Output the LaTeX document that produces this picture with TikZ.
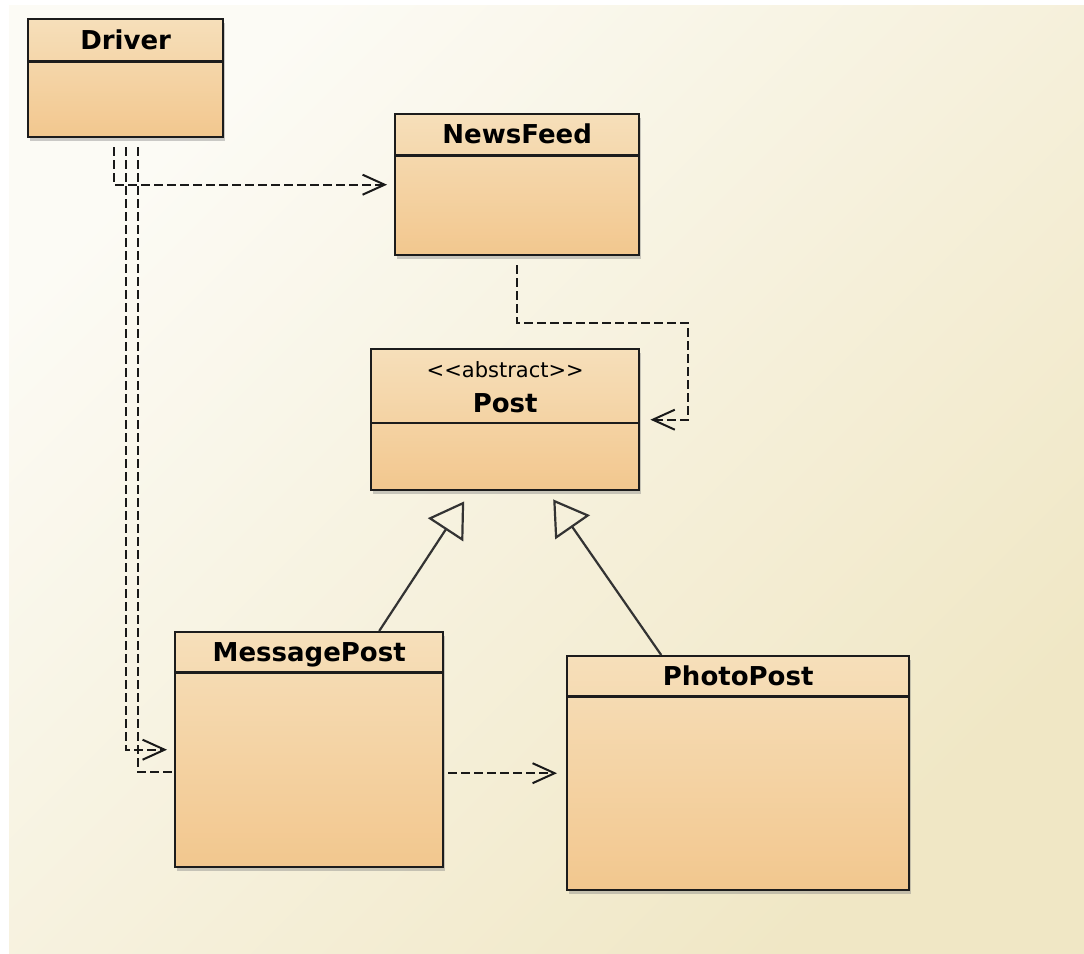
\documentclass[tikz,border=0pt]{standalone}
\usepackage{fontspec}
\setmainfont{DejaVu Sans}
\usetikzlibrary{%
	positioning,
	arrows.meta,
	shadows
}
\definecolor{bgtop}{RGB}{252,251,245}
\definecolor{bgbot}{RGB}{240,231,197}
\definecolor{classtop}{RGB}{246,223,186}
\definecolor{classbot}{RGB}{242,199,142}
\definecolor{classline}{RGB}{28,28,28}

\begin{document}
\begin{tikzpicture}[x=1pt,y=-1pt,
		UClass/.style={draw=classline,line width=2.4pt,shape=rectangle,top color=classtop,bottom color=classbot,inner sep=0pt,anchor=north west,drop shadow={shadow xshift=2pt,shadow yshift=-4pt,opacity=.4}},
		title/.style={inner sep=0pt,text height=19pt,text depth=0pt,font=\bfseries\fontsize{26}{30}\selectfont},
		stereo/.style={inner sep=0pt,text height=16pt,text depth=0pt,font=\fontsize{21}{24}\selectfont},
		divider/.style={draw=classline,line width=2.2pt},
		dep/.style={draw=black!90,line width=2pt,dash pattern=on 9pt off 4pt,-{Straight Barb[length=22pt,width=20pt]},shorten >=7pt},
		isa/.style={draw=black!80,line width=2.2pt,-{Triangle[open,length=34pt,width=42pt]}}
	]
	\useasboundingbox (0,0) rectangle (1084,953);
	\shade [top color=bgtop,bottom color=bgbot,shading angle=45] (9,5) rectangle (1084,953);
	
		%Driver
		\node (driver) [UClass,minimum width=195pt,minimum height=118pt] at (27,18) {};
		\node (driver-t) [title,minimum height=43pt,below=0pt of driver.north] {Driver};
		\draw [divider] (driver-t.south -| driver.west) -- (driver-t.south -| driver.east);
		
		%NewsFeed
		\node (newsfeed) [UClass,minimum width=244pt,minimum height=141pt,below right=95pt and 367pt of driver.north west,anchor=north west] {};
		\node (newsfeed-t) [title,minimum height=42pt,below=0pt of newsfeed.north] {NewsFeed};
		\draw [divider] (newsfeed-t.south -| newsfeed.west) -- (newsfeed-t.south -| newsfeed.east);
		
		%Post
		\node (post) [UClass,minimum width=268pt,minimum height=141pt,below left=235pt and 24pt of newsfeed.north west,anchor=north west] {};
		\node (post-s) [stereo,below=13pt of post.north] {<{}<abstract>{}>};
		\node (post-t) [title,below=16pt of post-s.south] {Post};
		\coordinate [below=75pt of post.north] (post-d);
		\draw [divider] (post-d -| post.west) -- (post-d -| post.east);
		
		%MessagePost
		\node (messagepost) [UClass,minimum width=268pt,minimum height=235pt,below left=283pt and 196pt of post.north west,anchor=north west] {};
		\node (messagepost-t) [title,minimum height=41pt,below=0pt of messagepost.north] {MessagePost};
		\draw [divider] (messagepost-t.south -| messagepost.west) -- (messagepost-t.south -| messagepost.east);
		
		%PhotoPost
		\node (photopost) [UClass,minimum width=342pt,minimum height=234pt,below right=24pt and 392pt of messagepost.north west,anchor=north west] {};
		\node (photopost-t) [title,minimum height=41pt,below=0pt of photopost.north] {PhotoPost};
		\draw [divider] (photopost-t.south -| photopost.west) -- (photopost-t.south -| photopost.east);
		
		%uses
		\coordinate [below left=9pt and 12pt of driver.south] (d1);
		\coordinate [below=9pt of driver.south] (d2);
		\coordinate [below right=9pt and 12pt of driver.south] (d3);
		\coordinate [below=22pt of messagepost.west] (mp-in);
		\draw [dep] (d1) |- (newsfeed);
		\draw [dep] (d2) |- (messagepost);
		\draw [dep,-,shorten >=0pt] (d3) |- (mp-in);
		
		\coordinate [below=9pt of newsfeed.south] (n1);
		\coordinate [right=48pt of post.east] (p1);
		\draw [dep,shorten >=10pt] (n1) -- ++(0,58) -| (p1) -- (post.east);
		
		\draw [dep,shorten <=4pt,shorten >=9pt] (messagepost.east |- photopost.west) -- (photopost.west);
		
		%inherits
		\coordinate [right=70pt of messagepost.north] (mp-top);
		\coordinate [left=77pt of photopost.north] (pp-top);
		\coordinate [below left=10pt and 41pt of post.south] (post-in1);
		\coordinate [below right=8pt and 48pt of post.south] (post-in2);
		\draw [isa] (mp-top) -- (post-in1);
		\draw [isa] (pp-top) -- (post-in2);
		
\end{tikzpicture}
\end{document}
